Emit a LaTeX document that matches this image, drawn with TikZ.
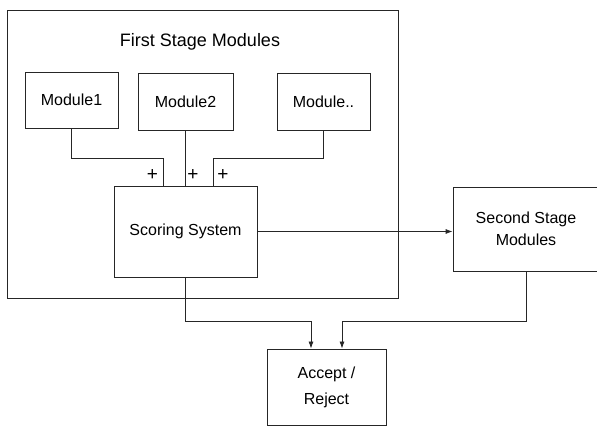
\documentclass[tikz,border=0pt]{standalone}
\usepackage{fontspec}
\setmainfont{Liberation Sans}
\usetikzlibrary{arrows.meta,positioning}
\tikzset{
    block/.style={draw=black!85, line width=0.8pt, rectangle, align=center,
        font=\fontsize{16pt}{22pt}\selectfont},
    link/.style={draw=black!85, line width=0.8pt},
    arr/.style={link, -{Latex[length=7pt,width=5pt]}},
    plus/.style={font=\fontsize{19pt}{19pt}\selectfont, inner sep=0pt}
}
\begin{document}
\begin{tikzpicture}[x=1pt,y=-1pt]
    \useasboundingbox (0,0) rectangle (597,427);
    % first stage frame
    \node[block, minimum width=391pt, minimum height=288pt] (stage1) at (202.5,154) {};
    \node[font=\fontsize{18pt}{18pt}\selectfont] (title) at (200,42) {First Stage Modules};
    \node[block, minimum width=93pt, minimum height=56pt] (mod1) at (71.5,100) {Module1};
    \node[block, minimum width=95pt, minimum height=57pt] (mod2) at (185.5,101.5) {Module2};
    \node[block, minimum width=93pt, minimum height=57pt] (mod3) at (323.5,101.5) {Module..};
    \node[block, minimum width=143pt, minimum height=91pt] (score) at (185.5,231.5) {Scoring System};
    % second stage and decision
    \node[block, minimum width=146pt, minimum height=84pt] (second) at (526,229) {Second Stage\\Modules};
    \node[block, minimum width=119pt, minimum height=76pt,
        font=\fontsize{16pt}{26pt}\selectfont] (accept) at (326.5,387) {Accept /\\Reject};
    \coordinate (bus) at (0,158);
    \coordinate (low) at (0,321);
    % module outputs summed into the scorer
    \draw[link] (mod1.south) -- (mod1.south |- bus) -| ([xshift=-22.5pt]score.north);
    \draw[link] (mod2.south) -- (score.north);
    \draw[link] (mod3.south) -- (mod3.south |- bus) -| ([xshift=27.5pt]score.north);
    \node[plus] (p1) at ([xshift=-33pt,yshift=11pt]score.north) {+};
    \node[plus] (p2) at ([xshift=7.5pt,yshift=11pt]score.north) {+};
    \node[plus] (p3) at ([xshift=37.5pt,yshift=11pt]score.north) {+};
    \draw[arr] (score.east) -- (score.east -| second.west);
    \draw[arr] (score.south) -- (score.south |- low) -| ([xshift=-15.5pt]accept.north);
    \draw[arr] (second.south) -- (second.south |- low) -| ([xshift=15.5pt]accept.north);
\end{tikzpicture}
\end{document}
